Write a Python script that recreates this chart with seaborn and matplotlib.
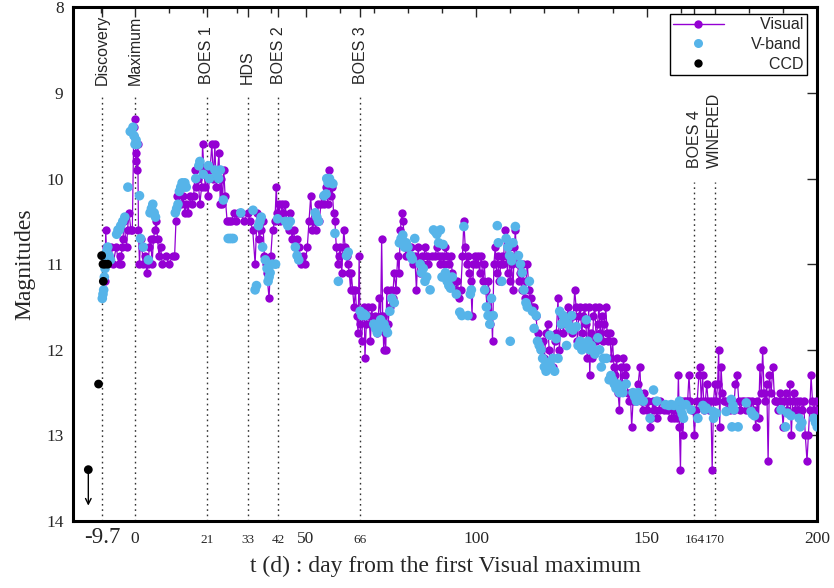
import numpy as np
import pandas as pd
import seaborn as sns
import matplotlib
matplotlib.use("Agg")
import matplotlib.pyplot as plt
from matplotlib.lines import Line2D
from matplotlib.ticker import MultipleLocator

# ---------------- data ----------------
vis_t = [-8.8, -8.6, -8.4, -8.2, -7.8, -7.0, -6.5, -5.5, -4.8, -4.4, -4.2, -3.8, -3.5, -3.3, -2.5, -2.2, -1.8, -1.2, -0.8,
         -0.4, -0.2, 0.0, 0.1, 0.3, 0.4, 0.6, 0.8, 1.0, 1.3, 1.6, 2.0, 2.4, 3.0, 3.4, 3.8, 4.2, 4.6, 5.0, 5.4, 5.8, 6.2, 6.6,
         7.0, 7.5, 8.0, 9.0, 10.0, 11.0, 11.6, 12.0, 12.4, 13.0, 13.6, 14.0, 14.6, 15.0, 15.6, 16.0, 16.6, 17.2, 17.6, 18.0,
         18.5, 19.0, 19.5, 19.8, 20.2, 20.6, 21.0, 21.4, 22.0, 22.5, 23.0, 23.4, 23.8, 24.2, 24.6, 25.0, 25.3, 25.6, 26.0,
         26.4, 27.0, 27.5, 28.2, 29.0, 29.5, 30.2, 31.0, 32.0, 33.0, 33.8, 34.5, 35.2, 35.8, 36.4, 37.0, 37.5, 37.9, 38.3,
         38.6, 39.3, 39.8, 40.3, 41.0, 41.4, 41.7, 42.2, 42.6, 43.0, 43.5, 44.0, 44.5, 45.0, 45.5, 46.0, 46.5, 47.0, 47.5,
         48.0, 48.7, 49.2, 49.8, 50.5, 51.0, 51.5, 52.0, 52.5, 53.0, 53.5, 54.0, 54.5, 55.0, 55.5, 56.0, 56.5, 57.0, 57.4,
         57.8, 58.2, 58.6, 59.0, 59.4, 59.8, 60.2, 60.6, 61.2, 61.6, 62.0, 62.4, 62.8, 63.2, 63.4, 63.8, 64.2, 64.6, 65.0,
         65.4, 65.7, 66.0, 66.4, 66.8, 67.2, 67.4, 67.8, 68.2, 68.6, 69.0, 69.4, 69.8, 70.3, 70.8, 71.2, 71.6, 72.0, 72.3,
         72.6, 72.9, 73.2, 73.5, 73.8, 74.2, 74.6, 75.0, 75.5, 76.0, 76.5, 77.0, 77.4, 77.8, 78.2, 78.6, 79.0, 79.5, 80.0,
         80.5, 81.0, 81.5, 82.0, 82.5, 83.0, 83.5, 84.0, 84.5, 85.0, 85.5, 86.0, 87.0, 88.0, 88.5, 89.0, 89.5, 90.0, 90.5,
         91.0, 91.5, 92.0, 92.5, 93.0, 93.5, 94.0, 94.5, 95.0, 95.5, 96.0, 96.4, 96.8, 97.2, 97.6, 98.0, 98.4, 98.8, 99.2,
         99.6, 100.0, 100.5, 101.0, 101.5, 102.0, 102.4, 102.8, 103.2, 103.6, 104.0, 104.4, 104.8, 105.2, 105.6, 106.0,
         106.4, 106.8, 107.2, 107.6, 108.0, 108.4, 108.8, 109.2, 109.6, 110.0, 110.4, 110.8, 111.2, 111.5, 111.8, 112.2,
         112.6, 113.0, 113.4, 113.8, 114.2, 114.6, 115.0, 115.5, 116.0, 116.5, 117.0, 117.5, 118.0, 118.5, 119.0, 119.5,
         120.0, 120.5, 121.0, 121.4, 121.8, 122.2, 122.6, 123.0, 123.5, 124.0, 124.4, 124.8, 125.2, 125.6, 126.0, 126.5,
         127.0, 127.5, 128.0, 128.5, 128.9, 129.3, 129.7, 130.1, 130.5, 131.0, 131.4, 131.8, 132.2, 132.6, 133.0, 133.3,
         133.7, 134.0, 134.4, 134.8, 135.2, 135.6, 136.0, 136.4, 136.8, 137.2, 137.6, 138.0, 138.4, 138.8, 139.2, 139.6,
         140.0, 140.4, 140.8, 141.2, 141.6, 142.0, 142.4, 142.8, 143.2, 143.6, 144.0, 144.4, 144.8, 145.2, 145.6, 146.0,
         146.5, 147.0, 147.5, 148.0, 148.4, 148.8, 149.2, 149.6, 150.0, 150.5, 151.0, 151.4, 151.8, 152.2, 152.6, 153.0,
         153.5, 154.0, 155.0, 156.0, 157.0, 157.6, 158.0, 158.5, 159.0, 159.3, 159.6, 159.9, 160.2, 160.6, 161.0, 161.5,
         162.0, 162.4, 162.8, 163.2, 163.6, 164.0, 164.4, 164.8, 165.3, 165.6, 166.0, 166.4, 166.8, 167.2, 167.6, 168.0,
         168.4, 168.8, 169.2, 169.6, 170.0, 170.4, 170.8, 171.1, 171.4, 171.8, 172.2, 172.6, 173.0, 173.5, 174.0, 174.5,
         175.0, 175.5, 176.0, 176.5, 177.0, 177.5, 178.0, 178.5, 179.0, 179.5, 180.0, 180.5, 181.0, 181.5, 182.0, 182.4,
         182.8, 183.2, 183.6, 184.0, 184.4, 184.8, 185.2, 185.6, 186.0, 186.5, 187.0, 187.5, 188.0, 188.5, 189.0, 189.5,
         190.0, 190.4, 190.8, 191.2, 191.6, 192.0, 192.4, 192.8, 193.2, 193.6, 194.0, 194.5, 195.0, 195.5, 196.0, 196.5,
         197.0, 197.4, 197.8, 198.2, 198.6, 199.0, 199.5, 200.0]
vis_mag = [11.2, 10.6, 10.8, 11.0, 10.9, 10.8, 11.0, 10.8, 11.0, 10.9, 11.0, 10.8, 10.7, 10.5, 10.8, 10.6, 10.4, 10.6, 10.6,
           9.5, 9.4, 9.3, 9.6, 9.8, 9.7, 9.9, 9.6, 10.6, 11.0, 10.7, 10.8, 11.0, 10.9, 11.1, 11.0, 10.8, 10.7, 11.0, 10.7,
           10.6, 10.5, 10.7, 10.9, 10.8, 11.0, 10.9, 11.0, 10.9, 10.9, 10.5, 10.2, 10.3, 10.3, 10.2, 10.4, 10.3, 10.4,
           10.2, 10.3, 10.2, 9.9, 10.1, 10.0, 10.3, 10.1, 9.6, 9.9, 10.1, 9.9, 10.2, 9.9, 9.6, 10.0, 9.6, 10.1, 9.9,
           9.7, 10.3, 10.0, 10.3, 9.9, 10.2, 10.5, 10.5, 10.5, 10.4, 10.5, 10.4, 10.4, 10.5, 10.4, 10.5, 10.6, 11.0,
           10.4, 10.7, 10.6, 10.5, 10.9, 11.0, 11.1, 11.4, 10.9, 10.6, 10.5, 10.1, 10.4, 10.3, 10.5, 10.3, 10.4, 10.3,
           10.5, 10.6, 10.4, 10.7, 10.6, 10.8, 10.7, 10.8, 11.0, 10.9, 11.0, 10.8, 10.5, 10.2, 10.6, 10.5, 10.6, 10.3,
           10.5, 10.3, 10.2, 10.3, 10.1, 10.3, 9.9, 10.2, 10.1, 10.4, 10.5, 10.8, 11.0, 10.9, 10.8, 11.1, 10.6, 10.8,
           10.9, 11.0, 11.1, 11.3, 11.1, 11.3, 11.5, 11.3, 11.6, 11.8, 10.9, 11.7, 11.9, 11.6, 11.5, 12.1, 11.7, 11.5,
           11.6, 11.9, 11.5, 11.7, 11.6, 11.8, 11.7, 11.4, 11.6, 10.7, 11.6, 12.0, 11.8, 12.0, 11.3, 11.7, 11.5, 11.3,
           11.4, 11.1, 11.3, 10.9, 11.1, 10.6, 10.4, 10.5, 10.8, 10.9, 10.8, 10.9, 10.8, 11.0, 10.9, 11.3, 10.8, 11.1,
           10.9, 11.0, 10.8, 10.9, 11.0, 10.9, 10.9, 10.8, 10.9, 11.0, 10.9, 11.0, 10.8, 10.9, 11.0, 10.9, 11.1, 11.2,
           11.3, 11.2, 11.4, 11.3, 10.9, 10.5, 10.8, 11.0, 10.9, 11.1, 11.2, 11.6, 11.0, 10.9, 11.0, 10.9, 11.1, 10.9,
           11.2, 11.0, 11.3, 11.5, 11.2, 11.7, 11.4, 11.9, 11.0, 10.8, 11.1, 10.9, 11.2, 11.0, 10.9, 11.0, 10.6, 10.9,
           11.1, 10.8, 11.2, 11.0, 11.3, 10.8, 10.6, 10.9, 11.0, 11.2, 11.1, 11.3, 11.0, 11.4, 11.2, 11.0, 11.3, 11.4,
           11.5, 11.5, 11.6, 11.8, 11.9, 12.0, 11.9, 12.1, 11.8, 11.7, 12.0, 12.2, 12.1, 12.2, 11.9, 11.8, 11.4, 12.0,
           11.7, 11.6, 11.8, 11.6, 11.7, 11.5, 11.6, 11.8, 11.6, 11.3, 11.5, 11.9, 11.6, 11.5, 11.8, 11.6, 11.5, 11.7,
           12.1, 11.5, 12.3, 11.8, 12.1, 11.6, 11.5, 11.9, 11.7, 11.5, 11.8, 11.6, 11.9, 11.7, 11.5, 11.8, 11.9, 11.8,
           12.1, 11.9, 12.2, 12.3, 12.1, 12.5, 12.7, 12.2, 12.4, 12.1, 12.3, 12.2, 12.5, 12.6, 12.5, 12.9, 12.6, 12.5,
           12.6, 12.4, 12.2, 12.6, 12.7, 12.5, 12.6, 12.7, 12.6, 12.9, 12.8, 12.6, 12.7, 12.6, 12.8, 12.7, 12.6, 12.7,
           12.7, 12.8, 12.7, 12.8, 12.7, 12.8, 12.3, 12.9, 13.4, 12.6, 13.0, 12.6, 12.6, 12.6, 12.3, 12.6, 12.7, 12.7,
           13.0, 12.7, 12.6, 12.3, 12.2, 12.6, 12.3, 12.7, 12.6, 12.4, 12.6, 12.7, 12.6, 13.4, 12.6, 12.4, 12.6, 12.4,
           12.0, 12.9, 12.2, 12.5, 12.6, 12.6, 12.7, 12.6, 12.7, 12.6, 12.7, 12.4, 12.3, 12.6, 12.7, 12.6, 12.6, 12.7,
           12.6, 12.6, 12.7, 12.6, 12.7, 12.9, 12.6, 12.8, 12.2, 12.5, 12.0, 12.5, 12.6, 12.4, 13.3, 12.3, 12.5, 12.2,
           12.6, 12.6, 12.7, 12.5, 12.6, 12.9, 12.6, 12.5, 12.7, 12.6, 12.4, 13.0, 12.6, 12.5, 12.7, 12.6, 12.7, 12.6,
           12.7, 12.6, 13.0, 13.3, 13.0, 12.7, 12.3, 12.6, 12.7, 12.6, 12.7]

vb_t = [-9.6, -9.4, -9.2, -9.0, -8.8, -8.6, -8.3, -8.0, -7.6, -7.2, -5.4, -5.0, -4.6, -4.2, -3.6, -3.0, -2.1, -1.4, -1.0,
        -0.6, -0.3, 0.0, 0.3, 0.6, 1.3, 1.6, 2.4, 3.9, 4.4, 4.8, 5.2, 5.6, 6.0, 11.8, 12.2, 12.6, 13.0, 13.4, 13.8, 14.2,
        14.6, 15.0, 17.8, 18.7, 19.0, 20.0, 21.5, 21.8, 23.4, 24.0, 24.5, 25.0, 25.9, 27.3, 27.8, 28.3, 28.8, 31.0, 34.6,
        35.2, 35.6, 36.2, 36.6, 37.0, 37.4, 38.2, 38.7, 39.0, 39.3, 39.6, 40.2, 41.2, 41.8, 44.1, 44.8, 45.5, 47.0, 47.5,
        48.0, 52.8, 53.3, 53.8, 55.4, 56.0, 56.2, 56.6, 57.0, 57.6, 58.0, 58.6, 59.6, 62.0, 62.5, 66.0, 66.5, 67.0, 67.6,
        70.0, 70.5, 71.0, 71.5, 72.0, 72.5, 73.0, 73.5, 74.0, 74.7, 75.3, 76.0, 77.5, 78.0, 78.5, 79.0, 79.5, 80.0, 80.8,
        81.3, 82.0, 83.6, 84.0, 84.5, 85.0, 85.5, 86.5, 87.5, 88.0, 88.5, 89.0, 89.5, 90.0, 90.3, 91.0, 91.5, 92.0, 92.5,
        93.0, 94.2, 95.2, 95.8, 96.4, 97.6, 98.3, 98.6, 102.5, 103.0, 103.5, 104.0, 104.5, 105.0, 106.2, 106.5, 107.5,
        108.8, 109.3, 109.8, 110.0, 110.4, 110.8, 111.5, 112.4, 113.0, 113.5, 114.0, 114.6, 115.0, 115.6, 116.5, 117.0,
        117.6, 118.0, 118.5, 119.0, 119.5, 120.0, 120.5, 121.0, 121.6, 122.0, 122.5, 123.0, 123.5, 124.0, 124.5, 125.0,
        125.5, 126.0, 126.5, 127.0, 127.5, 128.0, 128.4, 129.4, 129.9, 130.5, 131.0, 131.5, 132.3, 132.8, 133.3, 133.8,
        134.3, 134.8, 135.7, 136.2, 136.7, 137.3, 138.2, 139.0, 139.5, 140.0, 140.5, 141.0, 141.5, 142.0, 142.5, 143.0,
        144.0, 146.0, 146.5, 147.0, 147.5, 148.0, 149.0, 151.0, 152.0, 153.0, 155.5, 156.5, 157.2, 158.0, 159.6, 160.0,
        160.4, 160.8, 161.5, 163.0, 165.0, 166.5, 167.0, 167.5, 169.4, 169.6, 170.4, 173.3, 174.8, 175.0, 175.3, 175.6,
        176.8, 179.2, 180.6, 181.0, 181.6, 189.4, 190.7, 191.3, 192.3, 194.7, 195.0, 195.5, 199.0, 199.5, 200.0]
vb_mag = [11.4, 11.35, 11.3, 11.15, 11.05, 10.95, 10.85, 10.8, 10.9, 10.95, 10.65, 10.6, 10.6, 10.55, 10.5, 10.45, 10.1,
          9.45, 9.45, 9.4, 9.5, 9.6, 9.55, 9.6, 10.2, 10.7, 10.8, 10.95, 10.4, 10.35, 10.3, 10.4, 10.45, 10.4, 10.35,
          10.3, 10.15, 10.1, 10.05, 10.1, 10.05, 10.1, 10.0, 9.85, 9.8, 9.95, 9.85, 10.0, 9.9, 9.95, 10.0, 9.9, 10.25,
          10.7, 10.7, 10.7, 10.7, 10.4, 10.37, 11.3, 11.25, 10.55, 10.5, 10.45, 10.8, 10.95, 11.05, 11.2, 11.15, 11.1,
          11.0, 11.0, 10.47, 10.5, 10.55, 10.5, 10.8, 10.9, 10.95, 10.4, 10.45, 10.5, 10.2, 10.18, 10.0, 10.05, 10.0,
          10.05, 10.06, 10.64, 11.2, 10.9, 10.86, 11.55, 11.6, 11.58, 11.6, 11.7, 11.75, 11.8, 11.7, 11.65, 11.72, 11.7,
          11.75, 11.8, 11.55, 11.4, 11.45, 10.75, 10.7, 10.66, 10.8, 10.75, 10.8, 10.9, 10.94, 10.7, 11.0, 11.1, 11.05,
          11.2, 11.15, 11.3, 10.6, 10.62, 10.65, 10.75, 10.6, 11.15, 10.77, 11.1, 11.2, 11.25, 11.28, 11.15, 11.35, 11.56,
          11.6, 10.56, 11.6, 11.35, 11.3, 11.3, 11.5, 11.6, 11.7, 11.4, 11.6, 10.55, 10.75, 11.2, 10.7, 10.8, 10.9, 11.9,
          10.96, 10.75, 10.56, 10.9, 11.0, 11.1, 11.3, 11.45, 11.5, 11.2, 11.55, 11.75, 11.6, 11.9, 11.95, 12.0, 12.1,
          12.2, 12.25, 12.15, 11.83, 12.2, 12.1, 12.25, 11.87, 12.1, 11.55, 11.7, 11.6, 11.65, 11.95, 11.7, 11.75, 11.6,
          11.77, 11.73, 11.95, 11.9, 12.0, 11.95, 11.65, 11.9, 12.0, 11.95, 12.0, 12.05, 11.86, 12.0, 12.2, 12.1, 12.1,
          12.35, 12.3, 12.35, 12.4, 12.45, 12.4, 12.5, 12.45, 12.5, 12.4, 12.5, 12.55, 12.6, 12.5, 12.55, 12.6, 12.8,
          12.47, 12.6, 12.64, 12.65, 12.64, 12.65, 12.6, 12.7, 12.75, 12.8, 12.64, 12.7, 12.8, 12.65, 12.7, 12.68, 12.72,
          12.8, 12.74, 12.72, 12.58, 12.9, 12.65, 12.7, 12.9, 12.62, 12.72, 12.75, 12.77, 12.7, 12.9, 12.74, 12.77, 12.8,
          12.9, 12.85, 12.8, 12.85, 12.9]

ccd_t = [-13.7, -10.7, -9.8, -9.4, -8.8, -8.0, -9.3]
ccd_mag = [13.4, 12.4, 10.9, 11.0, 11.0, 11.0, 11.2]

event_t = [-9.7, 0, 21, 33, 42, 66, 164, 170]
event_names = ["Discovery", "Maximum", "BOES 1", "HDS", "BOES 2", "BOES 3", "BOES 4", "WINERED"]
event_start = [9.04, 9.04, 9.04, 9.04, 9.04, 9.04, 10.04, 10.04]
event_text_y = [8.91, 8.91, 8.9, 8.9, 8.9, 8.9, 9.88, 9.88]

major_x = [0, 50, 100, 150, 200]
special_x = [-9.7, 21, 33, 42, 66, 164, 170]
special_lbl = ["-9.7", "21", "33", "42", "66", "164", "170"]

PURPLE = "#9400D3"
BLUE = "#56B4E9"

# ---------------- plot ----------------
sns.set_style("white")
plt.rcParams["font.family"] = ["Liberation Serif", "DejaVu Serif"]

fig = plt.figure(figsize=(8.34, 5.88), dpi=100)
ax = fig.add_axes([0.0879, 0.1139, 0.892, 0.8736])

vis = pd.DataFrame({"t": vis_t, "mag": vis_mag})
vb = pd.DataFrame({"t": vb_t, "mag": vb_mag})
ccd = pd.DataFrame({"t": ccd_t, "mag": ccd_mag})

sns.lineplot(data=vis, x="t", y="mag", sort=False, estimator=None, color=PURPLE,
             lw=0.9, marker="o", markersize=6, markeredgewidth=0, ax=ax, zorder=3)
sns.scatterplot(data=vb, x="t", y="mag", color=BLUE, s=48, edgecolor="none", ax=ax, zorder=4)
sns.scatterplot(data=ccd, x="t", y="mag", color="black", s=40, edgecolor="none", ax=ax, zorder=5)

ax.annotate("", xy=(ccd_t[0], 13.82), xytext=(ccd_t[0], 13.45),
            arrowprops=dict(arrowstyle="->", lw=1.0, color="black", shrinkA=0, shrinkB=0))

ax.set_xlim(-18.1, 200)
ax.set_ylim(14, 8)

for t, name, ys, yt in zip(event_t, event_names, event_start, event_text_y):
    frac = (14 - ys) / 6.0
    ax.axvline(t, ymin=0, ymax=frac, color="#333333", lw=1.0, ls=(0, (1.2, 2.6)), zorder=2)
    ax.text(t, yt, name, rotation=90, ha="center", va="bottom", fontsize=11.5,
            family=["Liberation Sans", "DejaVu Sans"])

# ticks
all_x = major_x + special_x
all_lbl = [str(v) for v in major_x] + special_lbl
ax.set_xticks(all_x)
ax.set_xticklabels(all_lbl)
ax.xaxis.set_minor_locator(MultipleLocator(10))
ax.set_yticks([8, 9, 10, 11, 12, 13, 14])
ax.tick_params(axis="both", which="major", direction="in", length=7, width=1,
               top=True, right=True, labelsize=12.5, pad=7)
ax.tick_params(axis="both", which="minor", direction="in", length=4, width=1, top=True, right=False)
ax.tick_params(axis="y", which="minor", left=False, right=False)
for tk, v in zip(ax.xaxis.get_major_ticks(), all_x):
    if v in special_x:
        tk.tick1line.set_markersize(4)
        tk.tick2line.set_markersize(0)
        if v == -9.7:
            tk.label1.set_fontsize(16.5)
            tk.set_pad(4)
        else:
            tk.label1.set_fontsize(9.5)
            tk.set_pad(9)

for s in ax.spines.values():
    s.set_linewidth(2.2)
    s.set_color("black")

ax.set_xlabel("t (d) : day from the first Visual maximum", fontsize=17, labelpad=6)
ax.set_ylabel("Magnitudes", fontsize=17, labelpad=8)

handles = [Line2D([0], [0], color=PURPLE, lw=1, marker="o", ms=6, mew=0),
           Line2D([0], [0], color=BLUE, ls="", marker="o", ms=6.5, mew=0),
           Line2D([0], [0], color="black", ls="", marker="o", ms=6, mew=0)]
labels = ["  Visual", "V-band", "    CCD"]
leg = ax.legend(handles, labels, loc="upper right", bbox_to_anchor=(0.986, 0.987), borderaxespad=0,
                frameon=True, fancybox=False, framealpha=1, edgecolor="black", handlelength=3.2,
                labelspacing=0.3, borderpad=0.2, handletextpad=1.7,
                prop={"family": ["Liberation Sans", "DejaVu Sans"], "size": 11.5})
leg.get_frame().set_linewidth(1.0)

fig.savefig("out.png", dpi=100)
